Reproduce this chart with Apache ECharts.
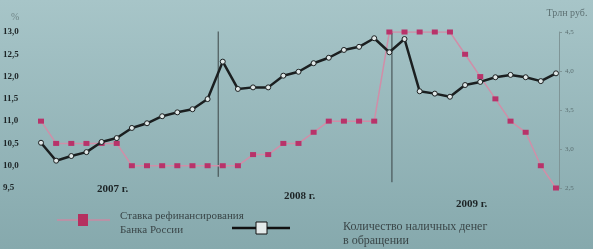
<!DOCTYPE html>
<html><head><meta charset="utf-8">
<script src="https://cdn.jsdelivr.net/npm/echarts@6/dist/echarts.min.js"></script>
<style>html,body{margin:0;padding:0;background:#98b8bc}#c{width:593px;height:249px}</style>
</head><body><div id="c"></div>
<script>
// Months Jan 2007 .. Nov 2009
const months = ['01.2007','02.2007','03.2007','04.2007','05.2007','06.2007','07.2007','08.2007','09.2007','10.2007','11.2007','12.2007',
  '01.2008','02.2008','03.2008','04.2008','05.2008','06.2008','07.2008','08.2008','09.2008','10.2008','11.2008','12.2008',
  '01.2009','02.2009','03.2009','04.2009','05.2009','06.2009','07.2009','08.2009','09.2009','10.2009','11.2009'];
// Ставка рефинансирования, %
const rate = [11.0,10.5,10.5,10.5,10.5,10.5,10.0,10.0,10.0,10.0,10.0,10.0,
  10.0,10.0,10.25,10.25,10.5,10.5,10.75,11.0,11.0,11.0,11.0,13.0,
  13.0,13.0,13.0,13.0,12.5,12.0,11.5,11.0,10.75,10.0,9.5];
// Количество наличных денег в обращении, трлн руб.
const cash = [3.08,2.85,2.91,2.96,3.09,3.14,3.27,3.33,3.42,3.47,3.51,3.64,
  4.12,3.77,3.79,3.79,3.94,3.99,4.10,4.17,4.27,4.31,4.42,4.24,
  4.41,3.74,3.71,3.67,3.82,3.86,3.92,3.95,3.92,3.87,3.97];
const leftTicks = [9.5,10.0,10.5,11.0,11.5,12.0,12.5,13.0];
const rightTicks = [2.5,3.0,3.5,4.0,4.5];
const yearLabels = ['2007 г.','2008 г.','2009 г.'];
const yearDividers = [11.7, 23.17]; // month-index positions of year separators
const dividerSpans = [[9.75, 13.05], [9.63, 13.07]]; // on the % axis
const rateName = 'Ставка рефинансирования\nБанка России';
const cashName = 'Количество наличных денег\nв обращении';

const comma = v => v.toFixed(1).replace('.', ',');
const chart = echarts.init(document.getElementById('c'));
const serif = '"Liberation Serif","DejaVu Serif",serif';

const dividerSeries = yearDividers.map((x, k) => ({
  type:'line', yAxisIndex:0, symbol:'none', silent:true, z:1,
  data:[[x, dividerSpans[k][0]], [x, dividerSpans[k][1]]],
  lineStyle:{color:'#3a4446', width:1}
}));

chart.setOption({
  backgroundColor: {type:'linear',x:0,y:0,x2:0,y2:1,colorStops:[{offset:0,color:'#a7c5c8'},{offset:1,color:'#86a9ad'}]},
  animation: false,
  grid: {left: 41, right: 34, top: 32, bottom: 61},
  xAxis: {type:'value', min:0, max:34.2, show:false},
  yAxis: [
    {type:'value', min:9.5, max:13.0, interval:0.5, position:'left',
     name:'%', nameGap:10, nameTextStyle:{color:'#6f8587', fontSize:10, fontFamily:serif, align:'left', padding:[0,0,0,-30]},
     axisLine:{show:false}, axisTick:{show:false}, splitLine:{show:false},
     axisLabel:{align:'left', margin:38, fontFamily:serif, fontWeight:'bold', fontSize:9, color:'#1d2426', formatter: comma}},
    {type:'value', min:2.5, max:4.5, interval:0.5, position:'right',
     name:'Трлн руб.', nameGap:14, nameTextStyle:{color:'#5d7173', fontSize:10, fontFamily:serif, align:'center', padding:[0,0,0,16]},
     axisLine:{show:true, lineStyle:{color:'#7f9597', width:1}},
     axisTick:{show:true, length:3, inside:false, lineStyle:{color:'#7f9597'}},
     splitLine:{show:false},
     axisLabel:{margin:6, fontFamily:serif, fontSize:7, color:'#5b6f71', formatter: comma}}
  ],
  series: [
    ...dividerSeries,
    {name: rateName, type:'line', yAxisIndex:0,
     data: rate.map((v,i)=>[i,v]),
     symbol:'rect', symbolSize:[6,5],
     lineStyle:{color:'#d08ea8', width:1.5},
     itemStyle:{color:'#b8336a'}, z:2},
    {name: cashName, type:'line', yAxisIndex:1,
     data: cash.map((v,i)=>[i,v]),
     symbol:'circle', symbolSize:5,
     lineStyle:{color:'#1b1f20', width:2.5},
     itemStyle:{color:'#dfe7e7', borderColor:'#1b1f20', borderWidth:1}, z:3}
  ],
  graphic: [
    {type:'text', left:97, top:184, style:{text:yearLabels[0], font:'bold 11px '+serif, fill:'#1d2426'}},
    {type:'text', left:284, top:191, style:{text:yearLabels[1], font:'bold 11px '+serif, fill:'#1d2426'}},
    {type:'text', left:456, top:199, style:{text:yearLabels[2], font:'bold 11px '+serif, fill:'#1d2426'}},
    {type:'line', shape:{x1:57,y1:220,x2:110,y2:220}, style:{stroke:'#c98aa3', lineWidth:1.5}},
    {type:'rect', shape:{x:78,y:214,width:10,height:12}, style:{fill:'#b5305f'}},
    {type:'text', left:120, top:209, style:{text:rateName, font:'11px '+serif, fill:'#3a4648', lineHeight:14}},
    {type:'line', shape:{x1:232,y1:228,x2:290,y2:228}, style:{stroke:'#111', lineWidth:2.5}},
    {type:'rect', shape:{x:256,y:222,width:11,height:12}, style:{fill:'#e4eaea', stroke:'#111', lineWidth:1}},
    {type:'text', left:343, top:220, style:{text:cashName, font:'12px '+serif, fill:'#3a4648', lineHeight:14}}
  ]
});
</script></body></html>
